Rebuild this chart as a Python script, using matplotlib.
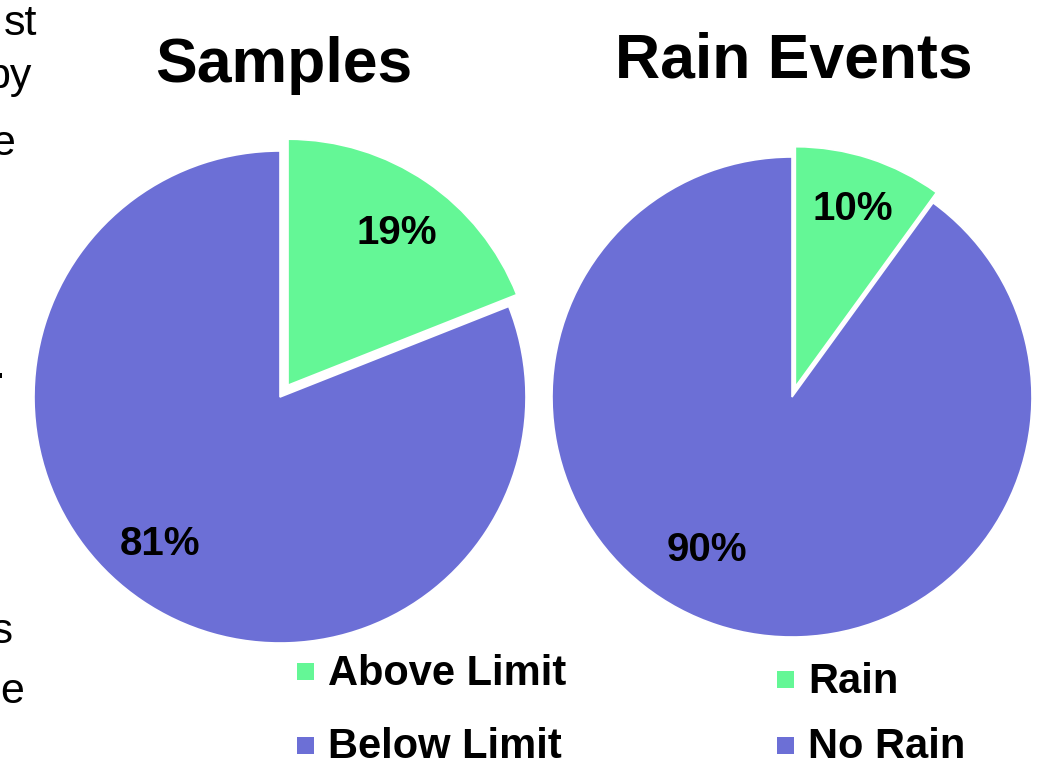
import numpy as np
import matplotlib
matplotlib.use("Agg")
import matplotlib.pyplot as plt
from matplotlib.patches import Rectangle

plt.rcParams['font.family'] = ['Liberation Sans', 'DejaVu Sans']

# data
sample_labels = ['Above Limit', 'Below Limit']
sample_pct = [19, 81]
rain_labels = ['Rain', 'No Rain']
rain_pct = [10, 90]
colors = ['#64F796', '#6C6FD6']

W, H = 1047, 769
fig = plt.figure(figsize=(W / 100, H / 100), dpi=100)


def pie_axes(cx, cy, R, pad=1.2):
    # axes box centred on (cx, cy) in pixels, radius R pixels
    ax = fig.add_axes([(cx - pad * R) / W, (H - cy - pad * R) / H,
                       2 * pad * R / W, 2 * pad * R / H])
    ax.set_xlim(-pad, pad)
    ax.set_ylim(-pad, pad)
    ax.set_aspect('equal')
    ax.axis('off')
    return ax


def draw_pie(ax, vals, explode, label_r, label_shift):
    wedges, _ = ax.pie(vals, colors=colors, startangle=90, counterclock=False,
                       explode=explode,
                       wedgeprops=dict(edgecolor='white', linewidth=1.2))
    for w, v, r, dth in zip(wedges, vals, label_r, label_shift):
        th = np.deg2rad((w.theta1 + w.theta2) / 2 + dth)
        cx, cy = w.center
        ax.text(cx + r * np.cos(th), cy + r * np.sin(th), f"{v}%",
                ha='center', va='center', fontsize=29, fontweight='bold')
    ax.set_xlim(-1.2, 1.2)
    ax.set_ylim(-1.2, 1.2)


ax1 = pie_axes(280, 397, 246)
draw_pie(ax1, sample_pct, [0.058, 0], [0.76, 0.77], [-1.5, -5])

ax2 = pie_axes(792, 397, 240)
draw_pie(ax2, rain_pct, [0.045, 0], [0.78, 0.73], [0, -11])

# titles
fig.text(284 / W, 1 - 82 / H, 'Samples', ha='center', va='baseline',
         fontsize=45, fontweight='bold')
fig.text(794 / W, 1 - 77 / H, 'Rain Events', ha='center', va='baseline',
         fontsize=45, fontweight='bold')


# legends: small square + bold label
def legend_row(x_box, y_box, x_text, y_base, color, label):
    fig.add_artist(Rectangle((x_box / W, 1 - (y_box + 17) / H), 17 / W, 17 / H,
                             transform=fig.transFigure, facecolor=color,
                             edgecolor='none'))
    fig.text(x_text / W, 1 - y_base / H, label, ha='left', va='baseline',
             fontsize=30, fontweight='bold')


legend_row(297, 663, 328, 685, colors[0], sample_labels[0])
legend_row(297, 737, 328, 758, colors[1], sample_labels[1])
legend_row(777, 671, 808, 693, colors[0], rain_labels[0])
legend_row(777, 737, 808, 758, colors[1], rain_labels[1])

# cut-off body text along the left edge
side_text = [('st', 37, 35), ('by', 32, 88), ('the', 16, 155),
             ('.', 5, 378), ('is', 13, 643), ('the', 25, 703)]
for s, xr, yb in side_text:
    fig.text(xr / W, 1 - yb / H, s, ha='right', va='baseline', fontsize=31)

fig.savefig('out.png', dpi=100)
